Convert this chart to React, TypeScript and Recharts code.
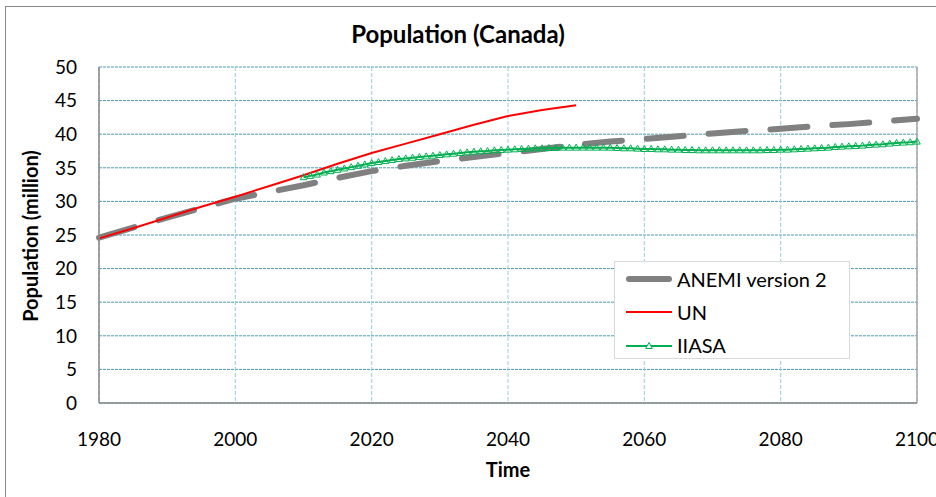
import { CartesianGrid, Line, LineChart, ReferenceLine, XAxis, YAxis } from "recharts";

const FONT = "Lato, 'Open Sans', sans-serif";

const xTicks = [1980, 2000, 2020, 2040, 2060, 2080, 2100];
const yTicks = [0, 5, 10, 15, 20, 25, 30, 35, 40, 45, 50];

// ANEMI version 2 (5-year steps)
const anemiYears = [
  1980, 1985, 1990, 1995, 2000, 2005, 2010, 2015, 2020, 2025, 2030, 2035, 2040,
  2045, 2050, 2055, 2060, 2065, 2070, 2075, 2080, 2085, 2090, 2095, 2100,
];
const anemiValues = [
  24.6, 26.1, 27.6, 29.0, 30.4, 31.4, 32.4, 33.5, 34.5, 35.3, 36.0, 36.6, 37.2,
  37.8, 38.4, 38.9, 39.3, 39.7, 40.1, 40.5, 40.8, 41.2, 41.5, 41.9, 42.3,
];

// UN projection
const unYears = [1980, 1985, 1990, 1995, 2000, 2005, 2010, 2015, 2020, 2025, 2030, 2035, 2040, 2045, 2050];
const unValues = [24.5, 26.0, 27.6, 29.2, 30.7, 32.3, 33.9, 35.6, 37.2, 38.6, 40.0, 41.4, 42.7, 43.6, 44.3];

// IIASA, yearly 2010..2100
const iiasaYears = Array.from({ length: 91 }, (_, i) => 2010 + i);
const iiasaValues = [
  33.6, 33.8, 34.0, 34.3, 34.5, 34.7, 34.9, 35.1, 35.3, 35.5,
  35.7, 35.85, 36.0, 36.15, 36.3, 36.4, 36.5, 36.6, 36.7, 36.8,
  36.9, 37.0, 37.1, 37.2, 37.3, 37.4, 37.45, 37.5, 37.6, 37.65,
  37.7, 37.75, 37.8, 37.85, 37.9, 37.9, 37.95, 37.95, 38.0, 38.0,
  38.0, 38.0, 38.0, 38.0, 38.0, 38.0, 37.95, 37.9, 37.9, 37.85,
  37.8, 37.8, 37.75, 37.75, 37.7, 37.7, 37.65, 37.65, 37.6, 37.6,
  37.6, 37.6, 37.6, 37.6, 37.6, 37.6, 37.6, 37.6, 37.65, 37.65,
  37.7, 37.7, 37.75, 37.8, 37.85, 37.9, 37.95, 38.0, 38.1, 38.15,
  38.2, 38.25, 38.3, 38.4, 38.45, 38.5, 38.6, 38.7, 38.75, 38.8,
  38.9,
];

const anemiData = anemiYears.map((year, i) => ({ year, value: anemiValues[i] }));
const unData = unYears.map((year, i) => ({ year, value: unValues[i] }));
const iiasaData = iiasaYears.map((year, i) => ({ year, value: iiasaValues[i] }));

const GRAY = "#808080";
const RED = "#ff0000";
const GREEN = "#00b050";

function Triangle(props: any) {
  const { cx, cy, index } = props;
  if (cx == null || cy == null) return null;
  return (
    <path
      key={`tri-${index}`}
      d={`M${cx},${cy - 3.5} L${cx + 3.3},${cy + 2.5} L${cx - 3.3},${cy + 2.5} Z`}
      fill="none"
      stroke={GREEN}
      strokeWidth={1}
    />
  );
}

function LegendBox() {
  const row = { display: "flex", alignItems: "center", height: 33 };
  const text = { fontSize: 20, color: "#000", marginLeft: 5, lineHeight: "20px" };
  return (
    <div
      style={{
        position: "absolute",
        left: 614,
        top: 261,
        width: 223,
        height: 96,
        border: "1px solid #d9d9d9",
        background: "#fff",
        paddingLeft: 11,
        fontFamily: FONT,
      }}
    >
      <div style={row}>
        <svg width={46} height={10}>
          <line x1={3} y1={5} x2={43} y2={5} stroke={GRAY} strokeWidth={6} strokeLinecap="round" />
        </svg>
        <span style={text}>ANEMI version 2</span>
      </div>
      <div style={row}>
        <svg width={46} height={10}>
          <line x1={0} y1={5} x2={46} y2={5} stroke={RED} strokeWidth={2} />
        </svg>
        <span style={text}>UN</span>
      </div>
      <div style={row}>
        <svg width={46} height={10}>
          <line x1={0} y1={6} x2={46} y2={6} stroke={GREEN} strokeWidth={2} />
          <path d="M23,2.5 L26.3,8.5 L19.7,8.5 Z" fill="#fff" stroke={GREEN} strokeWidth={1} />
        </svg>
        <span style={text}>IIASA</span>
      </div>
    </div>
  );
}

export default function App() {
  return (
    <div style={{ position: "absolute", left: 0, top: 0, width: 936, height: 497, overflow: "hidden", background: "#fff" }}>
      <div
        style={{
          position: "absolute",
          left: 5,
          top: 6,
          width: 940,
          height: 500,
          border: "1px solid #898989",
        }}
      />
      <div
        style={{
          position: "absolute",
          left: 0,
          top: 19,
          width: 916,
          textAlign: "center",
          fontFamily: FONT,
          fontWeight: 700,
          fontSize: 24,
        }}
      >
        Population (Canada)
      </div>
      <div style={{ position: "absolute", left: 0, top: 0 }}>
        <LineChart width={936} height={497} margin={{ top: 67, right: 19, bottom: 0, left: 0 }}>
          <CartesianGrid horizontal vertical={false} stroke="#4a9bb5" strokeDasharray="3 1" />
          <CartesianGrid horizontal={false} vertical stroke="#92d0e2" strokeDasharray="4 2" />
          <XAxis
            type="number"
            dataKey="year"
            domain={[1980, 2100]}
            ticks={xTicks}
            allowDuplicatedCategory={false}
            tickLine={false}
            tickSize={0}
            tickMargin={30}
            height={94}
            axisLine={{ stroke: "#868686", strokeWidth: 1.5 }}
            tick={{ fill: "#000", fontSize: 19, fontFamily: FONT }}
            label={{
              value: "Time",
              position: "insideBottom",
              offset: 20,
              fill: "#000",
              fontSize: 20,
              fontWeight: 700,
              fontFamily: FONT,
            }}
          />
          <YAxis
            type="number"
            domain={[0, 50]}
            ticks={yTicks}
            interval={0}
            width={99}
            tickLine={false}
            tickSize={0}
            tickMargin={22}
            axisLine={{ stroke: "#868686", strokeWidth: 1.5 }}
            tick={{ fill: "#000", fontSize: 19, fontFamily: FONT }}
            label={() => (
              <text
                x={30}
                y={236}
                transform="rotate(-90 30 236)"
                textAnchor="middle"
                dominantBaseline="central"
                fill="#000"
                fontSize={20}
                fontWeight={700}
                fontFamily={FONT}
              >
                Population (million)
              </text>
            )}
          />
          <ReferenceLine x={2100} stroke="#a6a6a6" strokeWidth={1.5} />
          <Line
            data={anemiData}
            dataKey="value"
            name="ANEMI version 2"
            stroke={GRAY}
            strokeWidth={6}
            strokeDasharray="37 25"
            strokeLinecap="round"
            dot={false}
            activeDot={false}
            isAnimationActive={false}
          />
          <Line
            data={unData}
            dataKey="value"
            name="UN"
            stroke={RED}
            strokeWidth={2}
            dot={false}
            activeDot={false}
            isAnimationActive={false}
          />
          <Line
            data={iiasaData}
            dataKey="value"
            name="IIASA"
            stroke={GREEN}
            strokeWidth={2}
            dot={Triangle}
            activeDot={false}
            isAnimationActive={false}
          />
        </LineChart>
      </div>
      <LegendBox />
    </div>
  );
}
